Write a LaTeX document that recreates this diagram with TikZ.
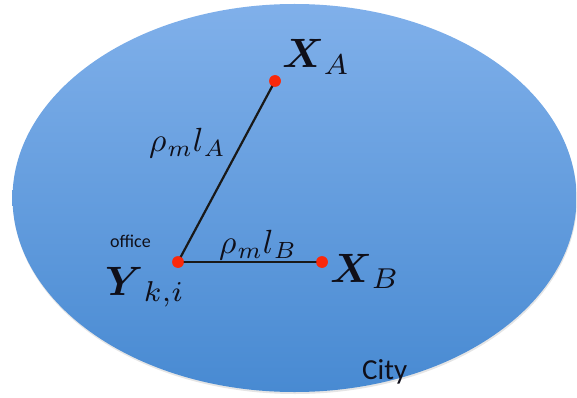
\documentclass[tikz,border=0pt]{standalone}
\usepackage{graphicx}
\usepackage{fontspec}
\newfontfamily\carlito{Carlito}
\usepackage{amsmath,bm}
\definecolor{cityTop}{RGB}{128,176,234}
\definecolor{cityMid}{RGB}{90,154,222}
\definecolor{cityBot}{RGB}{72,138,210}
\definecolor{dotred}{RGB}{250,40,10}
\definecolor{txt}{RGB}{15,15,25}
\newcommand{\mybigmath}[1]{\scalebox{4.1}{#1}}
\newcommand{\mymidmath}[1]{\scalebox{3.35}{#1}}
\tikzset{
  pt/.style={circle,fill=dotred,inner sep=0pt,minimum size=11.5pt},
  link/.style={draw=black!90,line width=2.2pt},
  lbl/.style={inner sep=0pt,anchor=base west,text=txt}
}
\begin{document}
\begin{tikzpicture}[x=1pt,y=-1pt]
\useasboundingbox (0,0) rectangle (577,398);
\fill[black!20,opacity=0.5] (295,200) ellipse [x radius=282, y radius=194];
\shade[top color=cityTop,middle color=cityMid,bottom color=cityBot] (294.5,198) ellipse [x radius=282, y radius=194];
\node[pt] (A) at (275,81) {};
\node[pt] (Y) at (178,262) {};
\node[pt] (B) at (322,262) {};
\draw[link] (Y.center) -- (A.center);
\draw[link] (Y.center) -- (B.center);
\node[pt] at (A) {};
\node[pt] at (Y) {};
\node[pt] at (B) {};
\node[lbl] (XA) at (282,68) {\mybigmath{$\bm{X}_{\hspace{0.6pt}A}$}};
\node[lbl] (XB) at (330,282) {\mybigmath{$\bm{X}_{\hspace{0.6pt}B}$}};
\node[lbl] (Yk) at (105,295) {\mybigmath{$\bm{Y}_{\hspace{2.6pt}k,i}$}};
\node[lbl] (lA) at (149,151) {\mymidmath{$\rho_{\hspace{0.3pt}m} l_{\hspace{0.3pt}A}$}};
\node[lbl] (lB) at (219,253) {\mymidmath{$\rho_{\hspace{0.3pt}m} l_{\hspace{0.3pt}B}$}};
\node[lbl,font=\carlito\fontsize{18}{18}\selectfont] (off) at (110,247) {office};
\node[lbl,font=\carlito\fontsize{29}{29}\selectfont] (city) at (362,379) {City};
\end{tikzpicture}
\end{document}
